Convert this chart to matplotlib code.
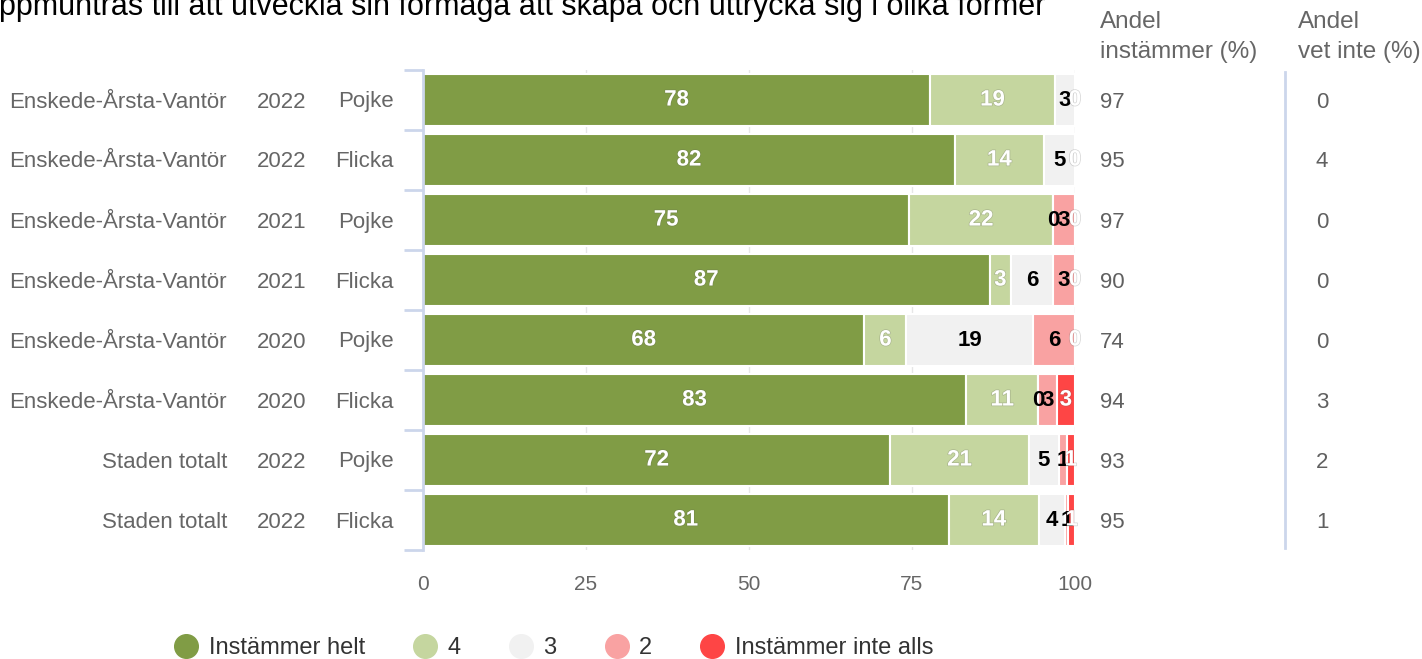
import numpy as np
import matplotlib.pyplot as plt
import matplotlib.patheffects as pe
from matplotlib.lines import Line2D

plt.rcParams['font.family'] = ['Liberation Sans', 'DejaVu Sans']

omrade = ['Enskede-Årsta-Vantör'] * 6 + ['Staden totalt'] * 2
ar = ['2022', '2022', '2021', '2021', '2020', '2020', '2022', '2022']
kon = ['Pojke', 'Flicka', 'Pojke', 'Flicka', 'Pojke', 'Flicka', 'Pojke', 'Flicka']

# andelar (%) per svarsalternativ
helt = [77.8, 81.6, 74.6, 86.9, 67.7, 83.3, 71.7, 80.6]
fyra = [19.1, 13.6, 22.0, 3.3, 6.45, 11.1, 21.2, 13.9]
tre = [3.1, 4.8, 0.0, 6.4, 19.4, 0.0, 4.6, 3.9]
tva = [0.0, 0.0, 3.4, 3.4, 6.45, 2.8, 1.2, 0.6]
inte_alls = [0.0, 0.0, 0.0, 0.0, 0.0, 2.8, 1.3, 1.0]

andel_instammer = [97, 95, 97, 90, 74, 94, 93, 95]
andel_vet_inte = [0, 4, 0, 0, 0, 3, 2, 1]

serier = ['Instämmer helt', '4', '3', '2', 'Instämmer inte alls']
farger = ['#809c45', '#c5d69f', '#f1f1f1', '#f9a2a2', '#fe4545']
textfarg = ['white', 'white', 'black', 'black', 'white']

W, H = 1422, 659
fig = plt.figure(figsize=(W / 100, H / 100), dpi=100)
ax = fig.add_axes([423 / W, 1 - 550 / H, (1075 - 423) / W, 480 / H])

data = np.array([helt, fyra, tre, tva, inte_alls])
y = np.arange(len(kon))
left = np.zeros(len(kon))
for i in range(len(serier)):
    ax.barh(y, data[i], left=left, height=0.88, color=farger[i],
            edgecolor='white', linewidth=1.5, label=serier[i], zorder=2)
    left = left + data[i]

# datalabels
for r in range(len(kon)):
    start = 0
    pos = []
    for i in range(len(serier)):
        pos.append(start + data[i][r] / 2)
        start += data[i][r]
    for i in range(len(serier)):
        if i < len(serier) - 1 and abs(pos[i] - pos[i + 1]) < 0.01:
            continue
        t = ax.text(pos[i], r, f'{data[i][r]:.0f}', ha='center', va='center',
                    fontsize=16, fontweight='bold', color=textfarg[i], zorder=3,
                    clip_on=False)
        if textfarg[i] == 'white':
            t.set_path_effects([pe.withStroke(linewidth=1.0, foreground='#555555', alpha=0.25)])

ax.set_xlim(0, 100)
ax.set_ylim(7.5, -0.5)
ax.set_xticks([0, 25, 50, 75, 100])
ax.tick_params(axis='x', length=0, labelsize=15, labelcolor='#666666', pad=18)
ax.set_yticks(np.arange(-0.5, 8, 1))
ax.set_yticklabels([])
ax.tick_params(axis='y', length=14, width=2, color='#ccd6eb')
ax.grid(axis='x', color='#e6e6e6', linewidth=1, zorder=0)
for s in ['top', 'right', 'bottom']:
    ax.spines[s].set_visible(False)
ax.spines['left'].set_color('#ccd6eb')
ax.spines['left'].set_linewidth(2)

# kategoritexter
for r in range(len(kon)):
    yy = 1 - (102 + 60 * r) / H
    fig.text(227 / W, yy, omrade[r], ha='right', va='center', fontsize=16, color='#666666')
    fig.text(282 / W, yy, ar[r], ha='center', va='center', fontsize=16, color='#666666')
    fig.text(394 / W, yy, kon[r], ha='right', va='center', fontsize=16, color='#666666')
    fig.text(1100 / W, yy, str(andel_instammer[r]), ha='left', va='center', fontsize=16, color='#606060')
    fig.text(1322 / W, yy, str(andel_vet_inte[r]), ha='center', va='center', fontsize=16, color='#606060')

for xx, rad1, rad2 in [(1100, 'Andel', 'instämmer (%)'), (1298, 'Andel', 'vet inte (%)')]:
    fig.text(xx / W, 1 - 22 / H, rad1, ha='left', va='center', fontsize=17.5, color='#666666')
    fig.text(xx / W, 1 - 52 / H, rad2, ha='left', va='center', fontsize=17.5, color='#666666')
fig.add_artist(Line2D([1285 / W, 1285 / W], [1 - 72 / H, 1 - 548 / H],
                      color='#ccd6eb', linewidth=2))

# titel (beskuren i överkant)
fig.text(-18 / W, 1 - 15 / H, 'uppmuntras till att utveckla sin förmåga att skapa och uttrycka sig i olika former',
         ha='left', va='baseline', fontsize=22, color='black')

fig.legend(loc='center', bbox_to_anchor=(0.389, 1 - 648 / H), ncol=5, frameon=False,
           fontsize=17, labelcolor='#333333', handles=[
               Line2D([], [], marker='o', linestyle='', markersize=17, color=c) for c in farger],
           labels=serier, handletextpad=0.4, columnspacing=2.0, handlelength=1.1)

fig.savefig('out.png', dpi=100)
